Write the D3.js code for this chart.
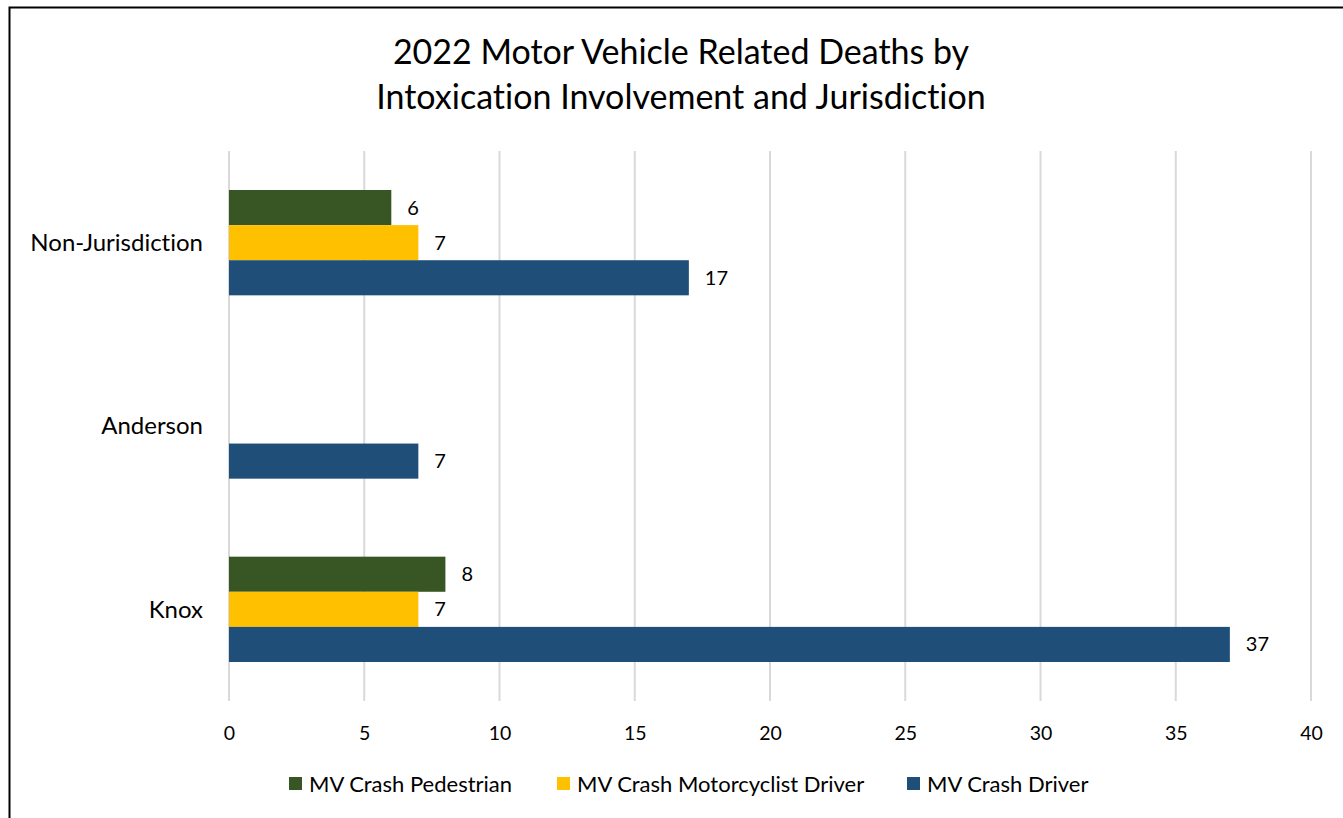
<!DOCTYPE html>
<html><head><meta charset="utf-8">
<script src="https://cdn.jsdelivr.net/npm/d3@7/dist/d3.min.js"></script>
<style>body{margin:0;background:#fff;}svg{display:block;font-family:Lato,"Open Sans",sans-serif;font-variant-ligatures:none;font-feature-settings:"liga" 0,"clig" 0;}
svg text{font-variant-ligatures:none;font-feature-settings:"liga" 0,"clig" 0;}</style>
</head><body>
<svg id="chart" width="1343" height="818"></svg>
<script>
const titleLines = ["2022 Motor Vehicle Related Deaths by", "Intoxication Involvement and Jurisdiction"];
const categories = ["Non-Jurisdiction", "Anderson", "Knox"];
const seriesNames = ["MV Crash Pedestrian", "MV Crash Motorcyclist Driver", "MV Crash Driver"];
const seriesColors = ["#375623", "#FFC000", "#1F4E79"];
const pedestrian = [6, null, 8];
const motorcyclist = [7, null, 7];
const driver = [17, 7, 37];
const xTicks = [0, 5, 10, 15, 20, 25, 30, 35, 40];

const seriesValues = [pedestrian, motorcyclist, driver];
const svg = d3.select("#chart");

// chart border (partially outside view, as in reference)
svg.append("rect").attr("x", 9.5).attr("y", 7.5).attr("width", 1400).attr("height", 900)
  .attr("fill", "#fff").attr("stroke", "#000").attr("stroke-width", 2);

const plotLeft = 229, plotRight = 1311, plotTop = 151, plotBottom = 701;
const x = d3.scaleLinear().domain([0, 40]).range([plotLeft, plotRight]);
const y = d3.scaleBand().domain(categories).range([plotTop, plotBottom]).paddingInner(78/183.3).paddingOuter(39/183.3);
const yInner = d3.scaleBand().domain(seriesNames).range([0, y.bandwidth()]);

// title
svg.append("g").selectAll("text").data(titleLines).join("text")
  .attr("x", 681).attr("y", (d, i) => 64 + i * 45)
  .attr("text-anchor", "middle").attr("font-size", 34).attr("fill", "#000").text(d => d);

// gridlines
svg.append("g").selectAll("line").data(xTicks).join("line")
  .attr("x1", d => x(d)).attr("x2", d => x(d))
  .attr("y1", plotTop).attr("y2", plotBottom)
  .attr("stroke", "#d9d9d9").attr("stroke-width", 2);

// x axis labels
const xAxis = d3.axisBottom(x).tickValues(xTicks).tickSize(0).tickPadding(0);
const gx = svg.append("g").attr("transform", `translate(0,${plotBottom + 39})`).call(xAxis);
gx.select(".domain").remove();
gx.selectAll("text").attr("font-size", 19.5).attr("fill", "#000").attr("font-family", "Lato, 'Open Sans', sans-serif").attr("dy", "0");

// y axis labels
const yAxis = d3.axisLeft(y).tickSize(0).tickPadding(0);
const gy = svg.append("g").attr("transform", `translate(${plotLeft - 26},0)`).call(yAxis);
gy.select(".domain").remove();
gy.selectAll("text").attr("font-size", 24).attr("fill", "#000").attr("font-family", "Lato, 'Open Sans', sans-serif").attr("dy", "0.35em");

// bars
const data = [];
categories.forEach((c, ci) => seriesNames.forEach((s, si) => {
  const v = seriesValues[si][ci];
  if (v != null) data.push({c, s, v, color: seriesColors[si]});
}));
const bars = svg.append("g");
bars.selectAll("rect").data(data).join("rect")
  .attr("x", x(0)).attr("y", d => y(d.c) + yInner(d.s))
  .attr("width", d => x(d.v) - x(0)).attr("height", yInner.bandwidth())
  .attr("fill", d => d.color);
bars.selectAll("text").data(data).join("text")
  .attr("x", d => x(d.v) + 16).attr("y", d => y(d.c) + yInner(d.s) + yInner.bandwidth() / 2)
  .attr("dy", "0.35em").attr("font-size", 20).attr("fill", "#000").text(d => d.v);

// legend
const legendX = [289, 557, 907];
const lg = svg.append("g").selectAll("g").data(seriesNames).join("g")
  .attr("transform", (d, i) => `translate(${legendX[i]},784)`);
lg.append("rect").attr("x", 0).attr("y", -7).attr("width", 13).attr("height", 13).attr("fill", (d, i) => seriesColors[i]);
lg.append("text").attr("x", 20).attr("y", 0).attr("dy", "0.35em").attr("font-size", 22).attr("fill", "#000").text(d => d);
</script>
</body></html>
